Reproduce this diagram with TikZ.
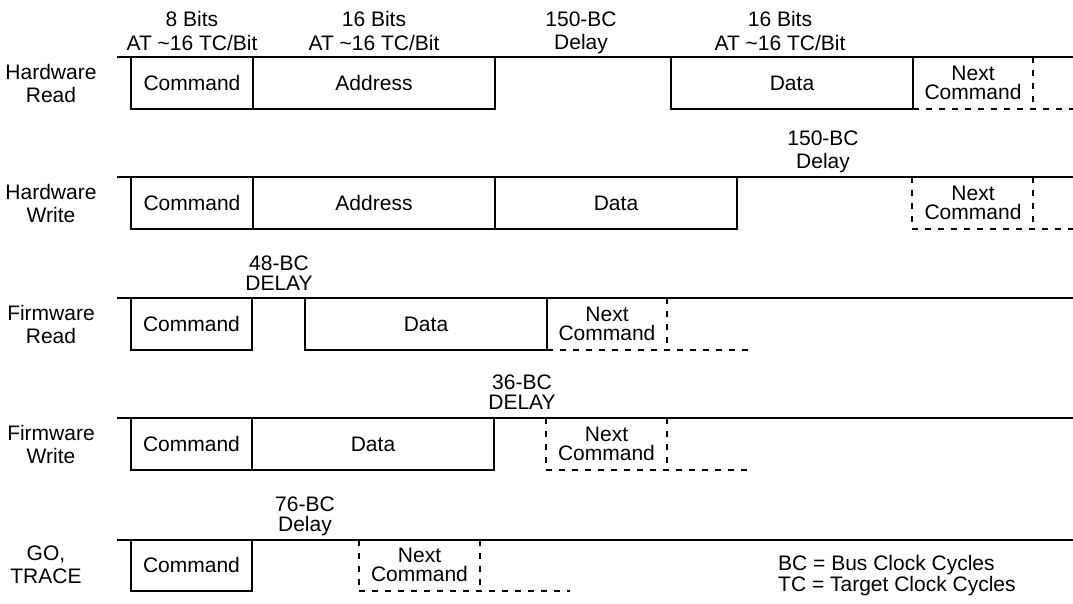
\documentclass[tikz,border=0pt]{standalone}
\usepackage{fontspec}
\setmainfont{Liberation Sans}
\usepackage{tikz}
\usetikzlibrary{positioning,calc}

\begin{document}
\begin{tikzpicture}[x=1pt,y=-1pt,
    every node/.style={inner sep=0pt, font=\fontsize{21}{23}\selectfont},
    bus/.style={line width=2.9pt},
    slot/.style={line width=2.9pt},
    nextcmd/.style={line width=1.9pt, dash pattern=on 6pt off 7pt},
    tight/.style={align=center, font=\fontsize{21}{19.5}\selectfont},
    toplbl/.style={align=center, anchor=north}]
    \useasboundingbox (0,0) rectangle (1073,603);

    % Hardware Read
    \node[align=center] (hrName) at (51,83) {Hardware\\Read};
    \draw[bus] (117,57) -- (1073,57);
    \draw[slot] (131,57) rectangle (495,109);
    \draw[slot] (253,57) -- (253,109);
    \draw[slot] (671,57) rectangle (913,109);
    \draw[nextcmd] (913,109) -- (1073,109);
    \draw[nextcmd] (1033,57) -- (1033,109);
    \node (hrCmd) at (192,83) {Command};
    \node (hrAddr) at (374,83) {Address};
    \node (hrData) at (792,83) {Data};
    \node[tight] (hrNext) at (973,83) {Next\\Command};
    \node[toplbl, font=\fontsize{21}{24}\selectfont] (hrBits1) at (192,11) {8 Bits\\AT \textasciitilde16 TC/Bit};
    \node[toplbl, font=\fontsize{21}{24}\selectfont] (hrBits2) at (374,11) {16 Bits\\AT \textasciitilde16 TC/Bit};
    \node[toplbl] (hrDelay) at (581,12) {150-BC\\Delay};
    \node[toplbl, font=\fontsize{21}{24}\selectfont] (hrBits3) at (780,11) {16 Bits\\AT \textasciitilde16 TC/Bit};

    % Hardware Write
    \node[align=center] (hwName) at (51,203) {Hardware\\Write};
    \draw[bus] (117,177) -- (1073,177);
    \draw[slot] (131,177) rectangle (737,229);
    \draw[slot] (253,177) -- (253,229);
    \draw[slot] (495,177) -- (495,229);
    \draw[nextcmd] (912,229) -- (1073,229);
    \draw[nextcmd] (912,177) -- (912,229);
    \draw[nextcmd] (1033,177) -- (1033,229);
    \node (hwCmd) at (192,203) {Command};
    \node (hwAddr) at (374,203) {Address};
    \node (hwData) at (616,203) {Data};
    \node[tight] (hwNext) at (973,203) {Next\\Command};
    \node[toplbl] (hwDelay) at (823,131) {150-BC\\Delay};

    % Firmware Read
    \node[align=center] (frName) at (51,324) {Firmware\\Read};
    \draw[bus] (117,298) -- (1073,298);
    \draw[slot] (131,298) rectangle (252,350);
    \draw[slot] (305,298) rectangle (547,350);
    \draw[nextcmd] (547,350) -- (753,350);
    \draw[nextcmd] (667,298) -- (667,350);
    \node (frCmd) at (191.5,324) {Command};
    \node (frData) at (426,324) {Data};
    \node[tight] (frNext) at (607,324) {Next\\Command};
    \node[toplbl, font=\fontsize{21}{19.5}\selectfont] (frDelay) at (279,256) {48-BC\\DELAY};

    % Firmware Write
    \node[align=center] (fwName) at (51,444) {Firmware\\Write};
    \draw[bus] (117,418) -- (1073,418);
    \draw[slot] (131,418) rectangle (494,470);
    \draw[slot] (252,418) -- (252,470);
    \draw[nextcmd] (546,470) -- (753,470);
    \draw[nextcmd] (546,418) -- (546,470);
    \draw[nextcmd] (667,418) -- (667,470);
    \node (fwCmd) at (191.5,444) {Command};
    \node (fwData) at (373,444) {Data};
    \node[tight] (fwNext) at (606.5,444) {Next\\Command};
    \node[toplbl, font=\fontsize{21}{19.5}\selectfont] (fwDelay) at (522,375) {36-BC\\DELAY};

    % GO, TRACE
    \node[align=center] (goName) at (46,565) {GO,\\TRACE};
    \draw[bus] (117,540) -- (1073,540);
    \draw[slot] (131,540) rectangle (252,591);
    \draw[nextcmd] (359,591) -- (570,591);
    \draw[nextcmd] (359,540) -- (359,591);
    \draw[nextcmd] (480,540) -- (480,591);
    \node (goCmd) at (191.5,565) {Command};
    \node[tight] (goNext) at (419.5,565) {Next\\Command};
    \node[toplbl, font=\fontsize{21}{19.5}\selectfont] (goDelay) at (305,497) {76-BC\\Delay};

    \node[align=left, anchor=north west, font=\fontsize{21}{18.5}\selectfont] (legend) at (778,555)
        {BC = Bus Clock Cycles\\TC = Target Clock Cycles};
\end{tikzpicture}
\end{document}
